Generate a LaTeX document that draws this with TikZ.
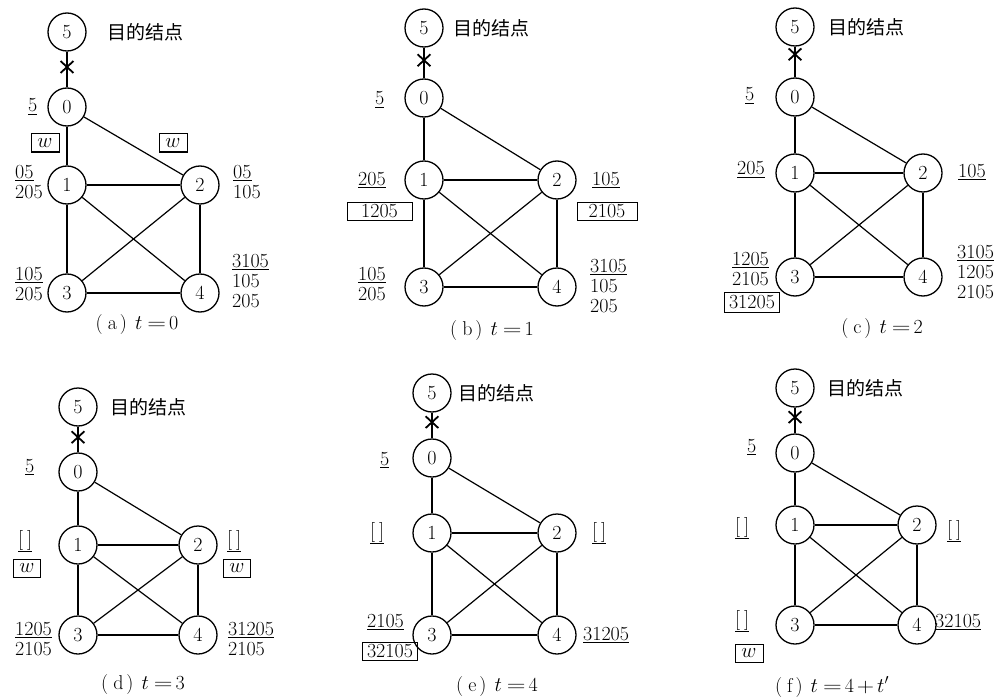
\documentclass[tikz,border=0pt]{standalone}
\usepackage{fontspec}
\usepackage{graphicx}
\newfontfamily\cjkfont{Noto Sans CJK SC}
\usetikzlibrary{shapes.misc}

\tikzset{
  vtx/.style={circle, draw, line width=1.3pt, minimum size=38pt, inner sep=0pt,
              font=\fontsize{20}{22}\selectfont},
  link/.style={line width=1.2pt},
  xmark/.style={cross out, draw, line width=1.8pt, minimum width=11pt,
                minimum height=10pt, inner sep=0pt},
  lbl/.style={inner sep=0pt, anchor=base west, font=\fontsize{20}{20}\selectfont},
  lstack/.style={inner sep=0pt, anchor=north west, align=left,
                 font=\fontsize{20}{20}\selectfont},
  boxlbl/.style={draw, line width=1pt, inner sep=0pt, minimum height=18pt,
                 font=\fontsize{20}{20}\selectfont},
  dest/.style={inner sep=0pt, anchor=west, font=\cjkfont\fontsize{19}{19}\selectfont},
  figcap/.style={inner sep=0pt, font=\fontsize{20}{20}\selectfont},
}

% one network: #1 prefix, #2 left column x, #3 right column x,
% #4 y of node 5, #5 y of node 0, #6 y of nodes 1,2, #7 y of nodes 3,4,
% #8 x of the "destination" text, #9 position of the broken-link mark
\newcommand\netpanel[9]{%
  \node[vtx] (#1v5) at (#2,#4) {5};
  \node[vtx] (#1v0) at (#2,#5) {0};
  \node[vtx] (#1v1) at (#2,#6) {1};
  \node[vtx] (#1v2) at (#3,#6) {2};
  \node[vtx] (#1v3) at (#2,#7) {3};
  \node[vtx] (#1v4) at (#3,#7) {4};
  \node[dest] (#1dest) at (#8,#4) {目的结点};
  \draw[link] (#1v5) -- node[xmark, pos=#9] {} (#1v0);
  \draw[link] (#1v0) -- (#1v1);
  \draw[link] (#1v0) -- (#1v2);
  \draw[link] (#1v1) -- (#1v2);
  \draw[link] (#1v1) -- (#1v3);
  \draw[link] (#1v1) -- (#1v4);
  \draw[link] (#1v2) -- (#1v3);
  \draw[link] (#1v2) -- (#1v4);
  \draw[link] (#1v3) -- (#1v4);
}

% an empty, underlined route list
\newcommand\nilset{\underline{[\hspace{4pt}]}}
% wide relation signs for the captions
\newcommand\weq{\hspace{5pt}\scalebox{1.3}[1]{=}\hspace{3pt}}
\newcommand\wplus{\hspace{3pt}\scalebox{1.2}[1]{+}\hspace{3pt}}
% sub-figure caption: letter and time
\newcommand\subcap[2]{(\hspace{5pt}#1\hspace{3pt})\hspace{8pt}#2}

\begin{document}
\begin{tikzpicture}[x=1pt, y=-1pt]
\useasboundingbox (0,0) rectangle (1001,698);

% (a) t=0
\netpanel{a}{67}{200}{32}{107}{185}{293}{107}{0.43}
\node[lbl] (a5) at (28,112) {\underline{5}};
\node[boxlbl, minimum width=28pt] (aw1) at (45,143) {$w$};
\node[boxlbl, minimum width=28pt] (aw2) at (173,143) {$w$};
\node[lstack] (a1) at (15,165) {\underline{05}\\205};
\node[lstack] (a2) at (233,165) {\underline{05}\\105};
\node[lstack] (a3) at (15,267) {\underline{105}\\205};
\node[lstack] (a4) at (232,254) {\underline{3105}\\105\\205};
\node[figcap] (capa) at (137,325) {\subcap{a}{$t$\weq 0}};

% (b) t=1
\netpanel{b}{424}{557}{28}{98}{180}{287}{453}{0.41}
\node[lbl] (b5) at (375,105) {\underline{5}};
\node[lbl] (b1) at (358,185) {\underline{205}};
\node[boxlbl, minimum width=65pt] (b1b) at (379.5,211.5) {1205};
\node[lbl] (b2) at (592,185) {\underline{105}};
\node[boxlbl, minimum width=60pt] (b2b) at (607,211.5) {2105};
\node[lstack] (b3) at (358,267) {\underline{105}\\205};
\node[lstack] (b4) at (590,259) {\underline{3105}\\105\\205};
\node[figcap] (capb) at (492,331) {\subcap{b}{$t$\weq 1}};

% (c) t=2
\netpanel{c}{795}{923}{27}{97}{173}{277}{828}{0.25}
\node[lbl] (c5) at (745,101) {\underline{5}};
\node[lbl] (c1) at (737,175) {\underline{205}};
\node[lbl] (c2) at (958,177) {\underline{105}};
\node[lstack] (c3) at (732,252) {\underline{1205}\\2105};
\node[boxlbl, minimum width=55pt, minimum height=20pt] (c3b) at (752,302) {31205};
\node[lstack] (c4) at (957,245) {\underline{3105}\\1205\\2105};
\node[figcap] (capc) at (882,329) {\subcap{c}{$t$\weq 2}};

% (d) t=3
\netpanel{d}{78}{198}{407}{472}{545}{635}{110}{0.41}
\node[lbl] (d5) at (25,472) {\underline{5}};
\node[lbl] (d1) at (18,545) {\nilset};
\node[boxlbl, minimum width=27pt] (d1w) at (27,568) {$w$};
\node[lbl] (d2) at (227,545) {\nilset};
\node[boxlbl, minimum width=27pt] (d2w) at (237,568) {$w$};
\node[lstack] (d3) at (15,622) {\underline{1205}\\2105};
\node[lstack] (d4) at (228,622) {\underline{31205}\\2105};
\node[figcap] (capd) at (143,685) {\subcap{d}{$t$\weq 3}};

% (e) t=4
\netpanel{e}{432}{557}{393}{458}{533}{635}{458}{0.37}
\node[lbl] (e5) at (380,465) {\underline{5}};
\node[lbl] (e1) at (370,537) {\nilset};
\node[lbl] (e2) at (592,537) {\nilset};
\node[lbl] (e3) at (367,627) {\underline{2105}};
\node[boxlbl, minimum width=55pt] (e3b) at (390,651) {32105};
\node[lbl] (e4) at (583,640) {\underline{31205}};
\node[figcap] (cape) at (497,687) {\subcap{e}{$t$\weq 4}};

% (f) t=4+t'
\netpanel{f}{795}{917}{388}{453}{525}{625}{827}{0.37}
\node[lbl] (f5) at (747,452) {\underline{5}};
\node[lbl] (f1) at (735,532) {\nilset};
\node[lbl] (f2) at (947,535) {\nilset};
\node[lbl] (f3) at (735,625) {\nilset};
\node[boxlbl, minimum width=28pt] (f3w) at (749,653) {$w$};
\node[lbl] (f4) at (935,627) {\underline{32105}};
\node[figcap] (capf) at (832,687) {\subcap{f}{$t$\weq 4\wplus$t'$}};
\end{tikzpicture}
\end{document}
